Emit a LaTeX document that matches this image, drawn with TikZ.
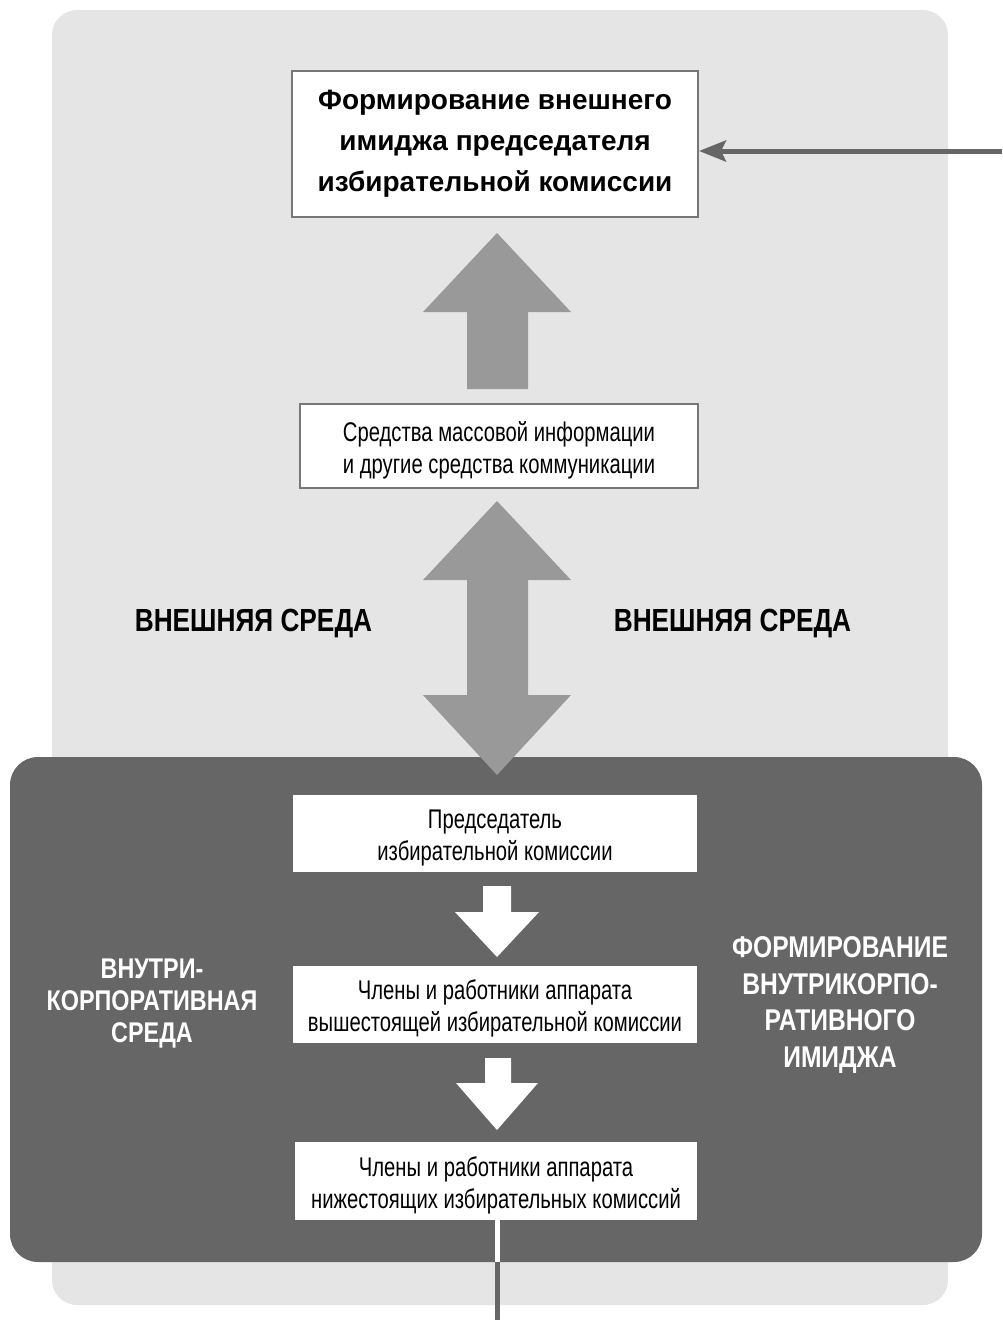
\documentclass[tikz,border=0pt]{standalone}
\usepackage{fontspec}
\setmainfont{Liberation Sans}
\newfontfamily\narrowfont{Liberation Sans}[FakeStretch=0.75]
\newfontfamily\labelfont{Liberation Sans}[FakeStretch=0.82]
\usetikzlibrary{arrows.meta,calc}
\definecolor{lightpanel}{HTML}{E5E5E5}
\definecolor{darkpanel}{HTML}{666666}
\definecolor{blockarrow}{HTML}{999999}
\definecolor{boxborder}{HTML}{777777}
\newcommand\dnstrut{\rule{0pt}{28pt}}
\tikzset{
  outerbox/.style={draw=boxborder, line width=2pt, fill=white, inner sep=0pt, align=center},
  innerbox/.style={draw=none, fill=white, inner sep=0pt, align=center, minimum width=404pt, minimum height=77pt,
     font=\narrowfont\fontsize{27}{32}\selectfont},
  envlabel/.style={font=\labelfont\bfseries\fontsize{32}{36}\selectfont, align=center, inner sep=0pt},
  blockup/.style={fill=blockarrow},
  whitearrow/.style={fill=white},
}
\begin{document}
\begin{tikzpicture}[x=1pt,y=-1pt]
\useasboundingbox (0,0) rectangle (1002,1320);
% panels
\fill[lightpanel, rounded corners=25pt] (52,10) rectangle (948,1305);
\fill[darkpanel, rounded corners=28pt] (10,757) rectangle (982,1262);

% boxes
\node[outerbox, minimum width=406pt, minimum height=146pt,
      font=\bfseries\fontsize{28}{41}\selectfont] (top) at (495,144)
  {Формирование внешнего\\имиджа председателя\\избирательной комиссии};
\node[outerbox, minimum width=398pt, minimum height=84pt,
      font=\narrowfont\fontsize{27}{32}\selectfont] (media) at (499,446)
  {\dnstrut Средства массовой информации\\и другие средства коммуникации};
\node[innerbox] (b1) at (495,833.5) {\dnstrut Председатель\\избирательной комиссии};
\node[innerbox] (b2) at (495,1004.5) {\dnstrut Члены и работники аппарата\\вышестоящей избирательной комиссии};
\node[innerbox, minimum width=402pt, minimum height=78pt] (b3) at (496,1181) {\dnstrut Члены и работники аппарата\\нижестоящих избирательных комиссий};

% labels
\node[envlabel] (extL) at (253.5,624) {ВНЕШНЯЯ СРЕДА};
\node[envlabel] (extR) at (732.5,624) {ВНЕШНЯЯ СРЕДА};
\node[envlabel, text=white, font=\labelfont\bfseries\fontsize{28.5}{32}\selectfont] (intL) at (152,1004) {ВНУТРИ-\\КОРПОРАТИВНАЯ\\СРЕДА};
\node[envlabel, text=white, font=\labelfont\bfseries\fontsize{30}{36.5}\selectfont] (intR) at (840,1005) {ФОРМИРОВАНИЕ\\ВНУТРИКОРПО-\\РАТИВНОГО\\ИМИДЖА};

% block arrow up (media -> top)
\fill[blockup] (467,389) -- (467,312) -- (423,312) -- (497,233) -- (571,312) -- (528,312) -- (528,389) -- cycle;
% double block arrow
\fill[blockup] (497,501) -- (571,580) -- (528,580) -- (528,695) -- (571,695) -- (497,775)
  -- (423,695) -- (467,695) -- (467,580) -- (423,580) -- cycle;
% white arrows in dark panel
\fill[whitearrow] (483,886) -- (511,886) -- (511,912) -- (539,912) -- (497,957) -- (455,912) -- (483,912) -- cycle;
\fill[whitearrow] (485,1058) -- (511,1058) -- (511,1083) -- (538,1083) -- (497,1130) -- (456,1083) -- (485,1083) -- cycle;

% incoming arrow from the right
\coordinate (rin) at (1002,151);
\draw[darkpanel, line width=5pt, -{Stealth[length=27pt,width=21pt,inset=5pt]}] (rin) -- (top.east |- rin);

% outgoing line at the bottom
\coordinate (dpb) at (497,1262);
\coordinate (bout) at (497,1320);
\draw[white, line width=5pt] (b3.south -| dpb) -- (dpb);
\draw[darkpanel, line width=5pt] (dpb) -- (bout);
\end{tikzpicture}
\end{document}
